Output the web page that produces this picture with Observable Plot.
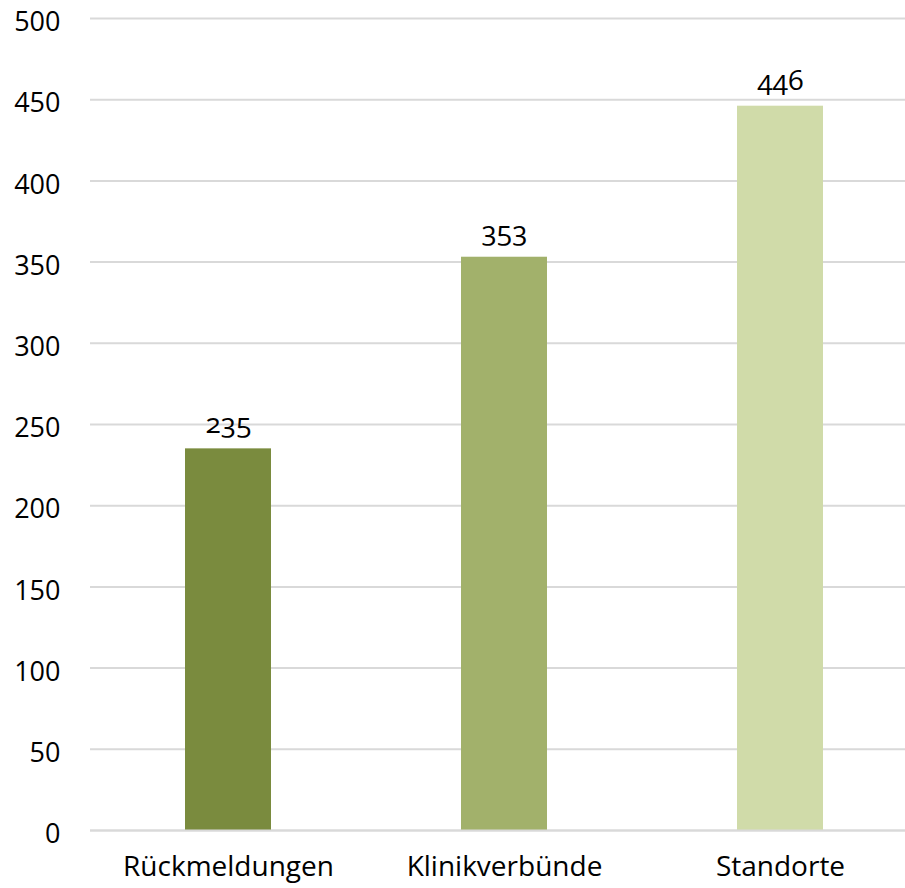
<!DOCTYPE html>
<html>
<head>
<meta charset="utf-8">
<script src="https://cdn.jsdelivr.net/npm/d3@7"></script>
<script src="https://cdn.jsdelivr.net/npm/@observablehq/plot@0.6"></script>
<style>
  html, body { margin: 0; padding: 0; background: #fff; }
  #chart svg { display: block; }
</style>
</head>
<body>
<div id="chart"></div>
<script>
const categories = ["Rückmeldungen", "Klinikverbünde", "Standorte"];
const values = [235, 353, 446];
const colors = ["#7a8b3e", "#a2b16b", "#d0dba9"];
const yTicks = [0, 50, 100, 150, 200, 250, 300, 350, 400, 450, 500];

const data = categories.map((c, i) => ({category: c, value: values[i], color: colors[i]}));

const chart = Plot.plot({
  width: 905,
  height: 888,
  marginLeft: 90,
  marginRight: 0,
  marginTop: 18,
  marginBottom: 58,
  style: {fontFamily: "'Open Sans', sans-serif", fontSize: "27px", color: "#000", background: "#fff", fontVariantNumeric: "oldstyle-nums"},
  x: {domain: categories, range: [90, 918], paddingInner: 0.6884, paddingOuter: 0.3442, label: null},
  y: {domain: [0, 500], range: [830, 18], label: null},
  marks: [
    Plot.gridY(yTicks, {stroke: "#d9d9d9", strokeOpacity: 1, strokeWidth: 2}),
    Plot.barY(data, {x: "category", y: "value", fill: "color"}),
    Plot.ruleY([0], {stroke: "#d9d9d9", strokeWidth: 2}),
    Plot.axisY(yTicks, {tickSize: 0, tickPadding: 30, fontSize: 27, dy: 4, fill: "#000"}),
    Plot.axisX({tickSize: 0, tickPadding: 26, fontSize: 28, fill: "#000"}),
    Plot.text(data, {x: "category", y: "value", text: d => String(d.value), lineAnchor: "bottom", dy: -16, fontSize: 28, fill: "#000"})
  ]
});
document.getElementById("chart").appendChild(chart);
</script>
</body>
</html>
